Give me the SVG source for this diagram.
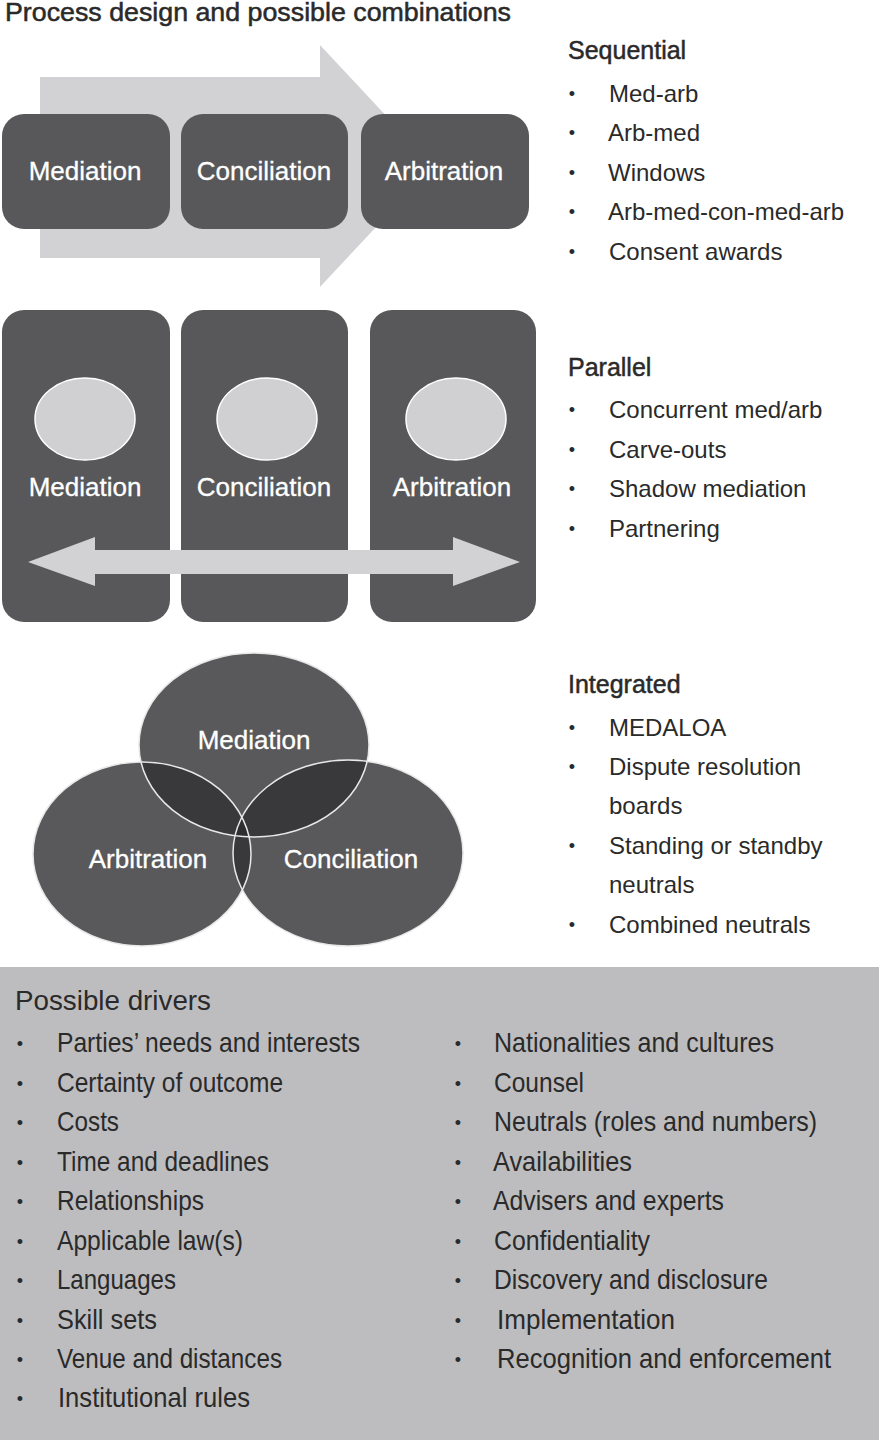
<svg xmlns="http://www.w3.org/2000/svg" width="879" height="1440" viewBox="0 0 879 1440">
<style>
.box{fill:#58585a}
.lbl{font-family:"Liberation Sans",Arial,sans-serif;font-size:26px;fill:#ffffff;text-anchor:middle;stroke:#ffffff;stroke-width:0.3}
.hd{font-family:"Liberation Sans",Arial,sans-serif;font-size:25px;fill:#2a2a2a;stroke:#2a2a2a;stroke-width:0.5}
.it{font-family:"Liberation Sans",Arial,sans-serif;font-size:24px;fill:#2a2a2a}
.bu{font-family:"Liberation Sans",Arial,sans-serif;font-size:18px;fill:#2a2a2a;text-anchor:middle}
.dr{font-family:"Liberation Sans",Arial,sans-serif;font-size:28px;fill:#2a2a2a}
.ven{fill:#59595b}
.vo{fill:none;stroke:#e8e8e8;stroke-width:1.5}
</style>
<defs>
<clipPath id="cM"><ellipse cx="254" cy="745" rx="115" ry="92"/></clipPath>
<clipPath id="cA"><ellipse cx="142" cy="854" rx="109" ry="92"/></clipPath>
<clipPath id="cC"><ellipse cx="348" cy="853" rx="115" ry="93"/></clipPath>
</defs>
<rect x="0" y="0" width="879" height="1440" fill="#ffffff"/>
<text x="5" y="21" class="hd" font-size="24" textLength="506" lengthAdjust="spacingAndGlyphs">Process design and possible combinations</text>

<g id="connectors">
<polygon points="40,77 320,77 320,45 433,166 320,287 320,258 40,258" fill="#d2d2d4"/>
</g>

<g id="seq-mediation"><rect class="box" x="2" y="114" width="168" height="115" rx="22"/><text class="lbl" x="85" y="180">Mediation</text></g>
<g id="seq-conciliation"><rect class="box" x="181" y="114" width="167" height="115" rx="22"/><text class="lbl" x="264" y="180">Conciliation</text></g>
<g id="seq-arbitration"><rect class="box" x="361" y="114" width="168" height="115" rx="22"/><text class="lbl" x="444" y="180">Arbitration</text></g>

<g id="par-mediation"><rect class="box" x="2" y="310" width="168" height="312" rx="22"/><ellipse cx="85" cy="419" rx="50" ry="41" fill="#d0d0d2" stroke="#ffffff" stroke-width="1.5"/><text class="lbl" x="85" y="496">Mediation</text></g>
<g id="par-conciliation"><rect class="box" x="181" y="310" width="167" height="312" rx="22"/><ellipse cx="267" cy="419" rx="50" ry="41" fill="#d0d0d2" stroke="#ffffff" stroke-width="1.5"/><text class="lbl" x="264" y="496">Conciliation</text></g>
<g id="par-arbitration"><rect class="box" x="370" y="310" width="166" height="312" rx="22"/><ellipse cx="456" cy="419" rx="50" ry="41" fill="#d0d0d2" stroke="#ffffff" stroke-width="1.5"/><text class="lbl" x="452" y="496">Arbitration</text></g>

<g id="par-arrow">
<polygon points="28,562 95,537 95,550 453,550 453,537 520,562 453,586 453,574 95,574 95,586" fill="#d2d2d4"/>
</g>

<g id="venn">
<ellipse class="ven" cx="254" cy="745" rx="115" ry="92"/>
<ellipse class="ven" cx="142" cy="854" rx="109" ry="92"/>
<ellipse class="ven" cx="348" cy="853" rx="115" ry="93"/>
<g clip-path="url(#cM)"><ellipse cx="142" cy="854" rx="109" ry="92" fill="#39383b"/><ellipse cx="348" cy="853" rx="115" ry="93" fill="#39383b"/></g>
<g clip-path="url(#cA)"><ellipse cx="348" cy="853" rx="115" ry="93" fill="#39383b"/></g>
<g clip-path="url(#cA)"><g clip-path="url(#cC)"><ellipse cx="254" cy="745" rx="115" ry="92" fill="#2e2d30"/></g></g>
<ellipse class="vo" cx="254" cy="745" rx="115" ry="92"/>
<ellipse class="vo" cx="142" cy="854" rx="109" ry="92"/>
<ellipse class="vo" cx="348" cy="853" rx="115" ry="93"/>
</g>
<g id="venn-mediation"><text class="lbl" x="254" y="749">Mediation</text></g>
<g id="venn-arbitration"><text class="lbl" x="148" y="868">Arbitration</text></g>
<g id="venn-conciliation"><text class="lbl" x="351" y="868">Conciliation</text></g>

<g id="sequential-list">
<text class="hd" x="568" y="59">Sequential</text>
<text class="bu" x="572" y="100">•</text><text class="it" x="609" y="102">Med-arb</text>
<text class="bu" x="572" y="139">•</text><text class="it" x="608" y="141">Arb-med</text>
<text class="bu" x="572" y="179">•</text><text class="it" x="608" y="181">Windows</text>
<text class="bu" x="572" y="218">•</text><text class="it" x="608" y="220">Arb-med-con-med-arb</text>
<text class="bu" x="572" y="258">•</text><text class="it" x="609" y="260">Consent awards</text>
</g>

<g id="parallel-list">
<text class="hd" x="568" y="376">Parallel</text>
<text class="bu" x="572" y="416">•</text><text class="it" x="609" y="418">Concurrent med/arb</text>
<text class="bu" x="572" y="456">•</text><text class="it" x="609" y="458">Carve-outs</text>
<text class="bu" x="572" y="495">•</text><text class="it" x="609" y="497">Shadow mediation</text>
<text class="bu" x="572" y="535">•</text><text class="it" x="609" y="537">Partnering</text>
</g>

<g id="integrated-list">
<text class="hd" x="568" y="693">Integrated</text>
<text class="bu" x="572" y="734">•</text><text class="it" x="609" y="736">MEDALOA</text>
<text class="bu" x="572" y="773">•</text><text class="it" x="609" y="775">Dispute resolution</text>
<text class="it" x="609" y="814">boards</text>
<text class="bu" x="572" y="852">•</text><text class="it" x="609" y="854">Standing or standby</text>
<text class="it" x="609" y="893">neutrals</text>
<text class="bu" x="572" y="931">•</text><text class="it" x="609" y="933">Combined neutrals</text>
</g>

<g id="drivers">
<rect x="0" y="967" width="879" height="473" fill="#bdbdbf"/>
<text class="dr" x="15" y="1010" textLength="196" lengthAdjust="spacingAndGlyphs">Possible drivers</text>
<text class="bu" x="20" y="1050">•</text><text class="dr" x="57" y="1052" textLength="303" lengthAdjust="spacingAndGlyphs">Parties’ needs and interests</text>
<text class="bu" x="20" y="1090">•</text><text class="dr" x="57" y="1092" textLength="226" lengthAdjust="spacingAndGlyphs">Certainty of outcome</text>
<text class="bu" x="20" y="1129">•</text><text class="dr" x="57" y="1131" textLength="62" lengthAdjust="spacingAndGlyphs">Costs</text>
<text class="bu" x="20" y="1169">•</text><text class="dr" x="57" y="1171" textLength="212" lengthAdjust="spacingAndGlyphs">Time and deadlines</text>
<text class="bu" x="20" y="1208">•</text><text class="dr" x="57" y="1210" textLength="147" lengthAdjust="spacingAndGlyphs">Relationships</text>
<text class="bu" x="20" y="1248">•</text><text class="dr" x="57" y="1250" textLength="186" lengthAdjust="spacingAndGlyphs">Applicable law(s)</text>
<text class="bu" x="20" y="1287">•</text><text class="dr" x="57" y="1289" textLength="119" lengthAdjust="spacingAndGlyphs">Languages</text>
<text class="bu" x="20" y="1327">•</text><text class="dr" x="57" y="1329" textLength="100" lengthAdjust="spacingAndGlyphs">Skill sets</text>
<text class="bu" x="20" y="1366">•</text><text class="dr" x="57" y="1368" textLength="225" lengthAdjust="spacingAndGlyphs">Venue and distances</text>
<text class="bu" x="20" y="1405">•</text><text class="dr" x="58" y="1407" textLength="192" lengthAdjust="spacingAndGlyphs">Institutional rules</text>

<text class="bu" x="458" y="1050">•</text><text class="dr" x="494" y="1052" textLength="280" lengthAdjust="spacingAndGlyphs">Nationalities and cultures</text>
<text class="bu" x="458" y="1090">•</text><text class="dr" x="494" y="1092" textLength="90" lengthAdjust="spacingAndGlyphs">Counsel</text>
<text class="bu" x="458" y="1129">•</text><text class="dr" x="494" y="1131" textLength="323" lengthAdjust="spacingAndGlyphs">Neutrals (roles and numbers)</text>
<text class="bu" x="458" y="1169">•</text><text class="dr" x="493" y="1171" textLength="139" lengthAdjust="spacingAndGlyphs">Availabilities</text>
<text class="bu" x="458" y="1208">•</text><text class="dr" x="493" y="1210" textLength="231" lengthAdjust="spacingAndGlyphs">Advisers and experts</text>
<text class="bu" x="458" y="1248">•</text><text class="dr" x="494" y="1250" textLength="156" lengthAdjust="spacingAndGlyphs">Confidentiality</text>
<text class="bu" x="458" y="1287">•</text><text class="dr" x="494" y="1289" textLength="274" lengthAdjust="spacingAndGlyphs">Discovery and disclosure</text>
<text class="bu" x="458" y="1327">•</text><text class="dr" x="497" y="1329" textLength="178" lengthAdjust="spacingAndGlyphs">Implementation</text>
<text class="bu" x="458" y="1366">•</text><text class="dr" x="497" y="1368" textLength="334" lengthAdjust="spacingAndGlyphs">Recognition and enforcement</text>
</g>
</svg>
